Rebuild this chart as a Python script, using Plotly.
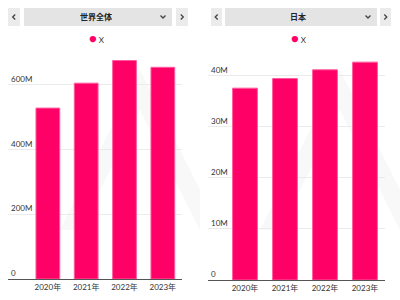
import plotly.graph_objects as go

years = ["2020年", "2021年", "2022年", "2023年"]
world_values = [528e6, 605e6, 675e6, 654e6]
japan_values = [37.6e6, 39.5e6, 41.2e6, 42.7e6]
world_ticks = [0, 200e6, 400e6, 600e6]
world_ticktext = ["0", "200M", "400M", "600M"]
japan_ticks = [0, 10e6, 20e6, 30e6, 40e6]
japan_ticktext = ["0", "10M", "20M", "30M", "40M"]
titles = ["世界全体", "日本"]
series_name = "X"

PINK = "#FF0066"
FONT = "Lato, Noto Sans CJK JP, sans-serif"
W, H = 400, 300


def px(x):
    return x / W


def py(y):
    return 1 - y / H


fig = go.Figure()
fig.add_trace(go.Bar(x=years, y=world_values, name=series_name, xaxis="x", yaxis="y",
                     marker=dict(color=PINK, line=dict(color="#ff5c9d", width=1)),
                     showlegend=False))
fig.add_trace(go.Bar(x=years, y=japan_values, name=series_name, xaxis="x2", yaxis="y2",
                     marker=dict(color=PINK, line=dict(color="#ff5c9d", width=1)),
                     showlegend=False))

tickfont = dict(family=FONT, size=8, color="#333333")
common_x = dict(type="category", showline=True, linecolor="#555555", linewidth=1,
                showgrid=False, ticks="", tickfont=tickfont, fixedrange=True)
common_y = dict(showgrid=True, gridcolor="#ebebeb", gridwidth=1, zeroline=False,
                ticklabelposition="inside top", tickfont=tickfont, ticks="", fixedrange=True)

fig.update_layout(
    width=W, height=H,
    margin=dict(l=0, r=0, t=0, b=0),
    paper_bgcolor="white", plot_bgcolor="rgba(0,0,0,0)",
    bargap=0.38,
    showlegend=False,
    xaxis=dict(domain=[px(8), px(182)], range=[-1.04, 3.5], anchor="y", **common_x),
    yaxis=dict(domain=[py(279), py(55)], range=[0, 692e6], anchor="x",
               tickvals=world_ticks, ticktext=world_ticktext, **common_y),
    xaxis2=dict(domain=[px(208), px(385)], range=[-0.925, 3.5], anchor="y2", **common_x),
    yaxis2=dict(domain=[py(280), py(55)], range=[0, 44.1e6], anchor="x2",
                tickvals=japan_ticks, ticktext=japan_ticktext, **common_y),
)

shapes = []
annotations = []

# faint watermark chevrons
for ax in [0, 200]:
    shapes.append(dict(type="path", xref="paper", yref="paper", layer="below",
                       path=f"M {px(ax+60)} {py(230)} L {px(ax+140)} {py(70)} L {px(ax+200)} {py(190)} "
                            f"L {px(ax+200)} {py(230)} L {px(ax+140)} {py(110)} L {px(ax+80)} {py(230)} Z",
                       fillcolor="#f8f8f8", line=dict(width=0)))

headers = [
    dict(lb=(8, 20), bar=(24, 172), rb=(176, 188), title_x=96, chev_x=163, leg_x=92),
    dict(lb=(211, 222), bar=(225, 377), rb=(380, 391), title_x=298, chev_x=368, leg_x=294),
]
for h, t in zip(headers, titles):
    y0, y1 = 8, 26
    for (a, b) in [h["lb"], h["rb"]]:
        shapes.append(dict(type="rect", xref="paper", yref="paper",
                           x0=px(a), x1=px(b), y0=py(y1), y1=py(y0),
                           fillcolor="#ebebeb", line=dict(width=0)))
    shapes.append(dict(type="rect", xref="paper", yref="paper",
                       x0=px(h["bar"][0]), x1=px(h["bar"][1]), y0=py(y1), y1=py(y0),
                       fillcolor="#e4e4e4", line=dict(width=0)))
    annotations.append(dict(text=f"<b>{t}</b>", x=px(h["title_x"]), y=py(17), xref="paper", yref="paper",
                            showarrow=False, xanchor="center", yanchor="middle",
                            font=dict(family=FONT, size=8, color="#222")))
    # legend: dot + series name
    annotations.append(dict(text=f"<span style='color:{PINK};font-size:13px'>●</span> {series_name}",
                            x=px(h["leg_x"] - 5), y=py(38), xref="paper", yref="paper",
                            showarrow=False, xanchor="left", yanchor="middle",
                            font=dict(family=FONT, size=8, color="#333")))
    # chevrons
    cx = h["chev_x"]
    shapes.append(dict(type="path", xref="paper", yref="paper",
                       path=f"M {px(cx-2.5)} {py(15.5)} L {px(cx)} {py(18)} L {px(cx+2.5)} {py(15.5)}",
                       line=dict(color="#444", width=1.3)))
    lx = (h["lb"][0] + h["lb"][1]) / 2
    shapes.append(dict(type="path", xref="paper", yref="paper",
                       path=f"M {px(lx+1.2)} {py(14.5)} L {px(lx-1.3)} {py(17)} L {px(lx+1.2)} {py(19.5)}",
                       line=dict(color="#444", width=1.3)))
    rx = (h["rb"][0] + h["rb"][1]) / 2
    shapes.append(dict(type="path", xref="paper", yref="paper",
                       path=f"M {px(rx-1.2)} {py(14.5)} L {px(rx+1.3)} {py(17)} L {px(rx-1.2)} {py(19.5)}",
                       line=dict(color="#444", width=1.3)))

fig.update_layout(shapes=shapes, annotations=annotations)
fig.write_html("out.html")
